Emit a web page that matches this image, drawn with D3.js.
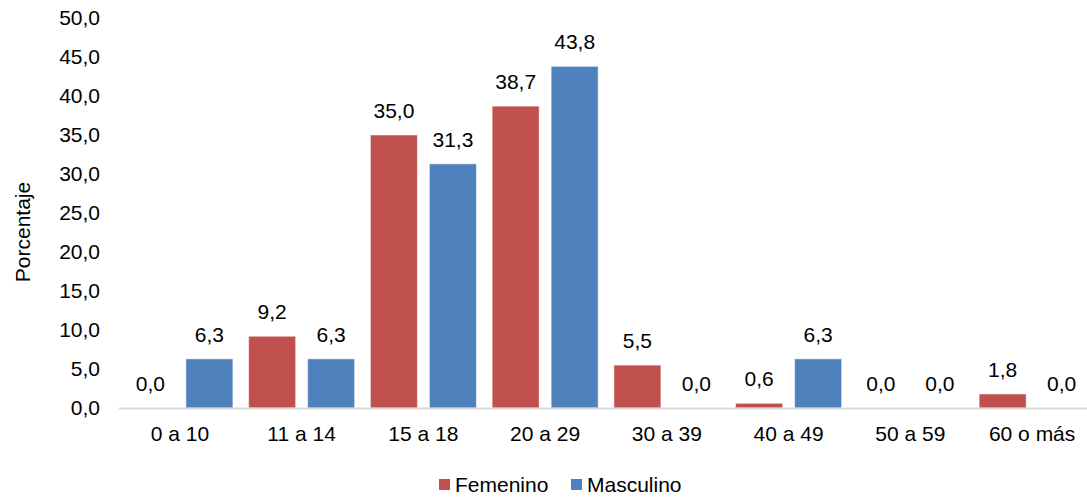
<!DOCTYPE html>
<html><head><meta charset="utf-8">
<script src="https://cdn.jsdelivr.net/npm/d3@7"></script>
<style>body{margin:0;background:#fff}svg{display:block;font-family:"Liberation Sans",Arial,sans-serif}</style>
</head><body><svg id="c" width="1087" height="497"></svg>
<script>
const categories = ["0 a 10","11 a 14","15 a 18","20 a 29","30 a 39","40 a 49","50 a 59","60 o más"];
const femenino = [0.0, 9.2, 35.0, 38.7, 5.5, 0.6, 0.0, 1.8];
const masculino = [6.3, 6.3, 31.3, 43.8, 0.0, 6.3, 0.0, 0.0];
const seriesNames = ["Femenino","Masculino"];
const colors = ["#C0504D","#4F81BD"];
const yTicks = [0,5,10,15,20,25,30,35,40,45,50];

const FS = 21;
const svg = d3.select("#c");
const fmt = v => d3.format(".1f")(v).replace(".", ",");
const x = d3.scaleBand().domain(categories).range([119, 1093]);
const x1 = d3.scaleBand().domain(seriesNames).range([7.9, 113.9]).paddingInner(12/59);
const y = d3.scaleLinear().domain([0,50]).range([408, 18]);

svg.append("g").selectAll("text").data(yTicks).join("text")
  .attr("x", 100).attr("y", d => y(d)).attr("dy", "0.35em")
  .attr("text-anchor", "end").attr("font-size", FS).attr("fill", "#000")
  .text(d => fmt(d));

svg.append("text").attr("transform", "translate(30,232) rotate(-90)")
  .attr("text-anchor", "middle").attr("font-size", FS).text("Porcentaje");

const data = categories.map((c,i) => ({c, vals:[femenino[i], masculino[i]]}));
const g = svg.append("g");
data.forEach(d => {
  d.vals.forEach((v,j) => {
    const bx = x(d.c) + x1(seriesNames[j]);
    if (v > 0) {
      g.append("rect").attr("x", bx).attr("y", y(v)).attr("width", x1.bandwidth())
        .attr("height", y(0)-y(v)).attr("fill", colors[j])
        .attr("stroke", "#fff").attr("stroke-opacity", 0.5).attr("stroke-width", 1);
    }
    g.append("text").attr("x", bx + x1.bandwidth()/2).attr("y", y(v) - 17)
      .attr("text-anchor", "middle").attr("font-size", FS).text(fmt(v));
  });
});

svg.append("line").attr("x1", 119).attr("x2", 1093).attr("y1", y(0)+0.5).attr("y2", y(0)+0.5)
  .attr("stroke", "#d9d9d9").attr("stroke-width", 2);

svg.append("g").selectAll("text").data(categories).join("text")
  .attr("x", d => x(d) + x.bandwidth()/2).attr("y", 441)
  .attr("text-anchor", "middle").attr("font-size", FS).text(d => d);

const legX = [439, 571];
seriesNames.forEach((s,j) => {
  svg.append("rect").attr("x", legX[j]).attr("y", 479).attr("width", 11).attr("height", 11).attr("fill", colors[j]);
  svg.append("text").attr("x", legX[j]+16).attr("y", 484.5).attr("dy", "0.35em")
    .attr("font-size", FS).text(s);
});
</script></body></html>
